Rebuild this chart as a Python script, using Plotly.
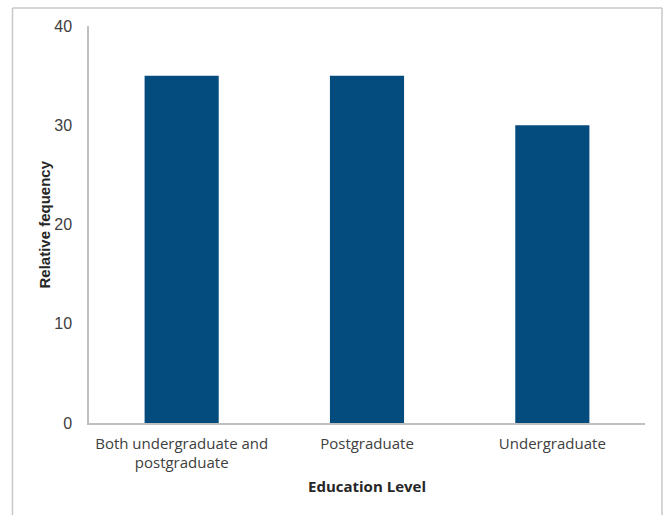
import plotly.graph_objects as go

# Education level categories and relative frequencies (%)
categories = ["Both undergraduate and<br>postgraduate", "Postgraduate", "Undergraduate"]
frequencies = [35, 35, 30]
y_ticks = [0, 10, 20, 30, 40]

W, H = 667, 515
L, R, T, B = 89, 22, 26, 92
pw, ph = W - L - R, H - T - B


def px_x(px):
    return (px - L) / pw


def px_y(py):
    return (H - B - py) / ph


fig = go.Figure(
    go.Bar(
        x=categories,
        y=frequencies,
        marker=dict(color="#044C7E", line=dict(width=0)),
        width=0.4,
    )
)

font_main = "Open Sans, Liberation Sans, Arial, sans-serif"

fig.update_layout(
    width=W,
    height=H,
    margin=dict(l=L, r=R, t=T, b=B),
    paper_bgcolor="white",
    plot_bgcolor="white",
    showlegend=False,
    font=dict(family=font_main, size=15, color="#404040"),
    xaxis=dict(
        showline=True,
        linecolor="#BFBFBF",
        linewidth=1.5,
        showgrid=False,
        ticks="",
        ticklabelstandoff=6,
        tickfont=dict(size=15, color="#404040"),
    ),
    yaxis=dict(
        range=[0, 40],
        tickvals=y_ticks,
        showline=True,
        linecolor="#BFBFBF",
        linewidth=1.5,
        showgrid=False,
        zeroline=False,
        ticks="",
        ticklabelstandoff=12,
        tickfont=dict(family="Liberation Sans, Arial, sans-serif", size=16, color="#404040"),
    ),
    annotations=[
        dict(
            text="<b>Education Level</b>",
            xref="paper", yref="paper",
            x=0.5, y=px_y(486),
            showarrow=False,
            font=dict(size=15, color="#262626"),
            xanchor="center", yanchor="middle",
        ),
        dict(
            text="<b>Relative fequency</b>",
            xref="paper", yref="paper",
            x=px_x(44), y=0.5,
            textangle=-90,
            showarrow=False,
            font=dict(family="Liberation Sans, Arial, sans-serif", size=15, color="#262626"),
            xanchor="center", yanchor="middle",
        ),
    ],
    shapes=[
        # outer frame (left, top, right)
        dict(type="line", xref="paper", yref="paper",
             x0=px_x(12.5), x1=px_x(12.5), y0=px_y(8), y1=px_y(520),
             line=dict(color="#C8C8C8", width=1.5)),
        dict(type="line", xref="paper", yref="paper",
             x0=px_x(12.5), x1=px_x(662), y0=px_y(8), y1=px_y(8),
             line=dict(color="#C8C8C8", width=1.5)),
        dict(type="line", xref="paper", yref="paper",
             x0=px_x(662), x1=px_x(662), y0=px_y(8), y1=px_y(520),
             line=dict(color="#C8C8C8", width=1.5)),
    ],
)

fig.write_html("out.html")
